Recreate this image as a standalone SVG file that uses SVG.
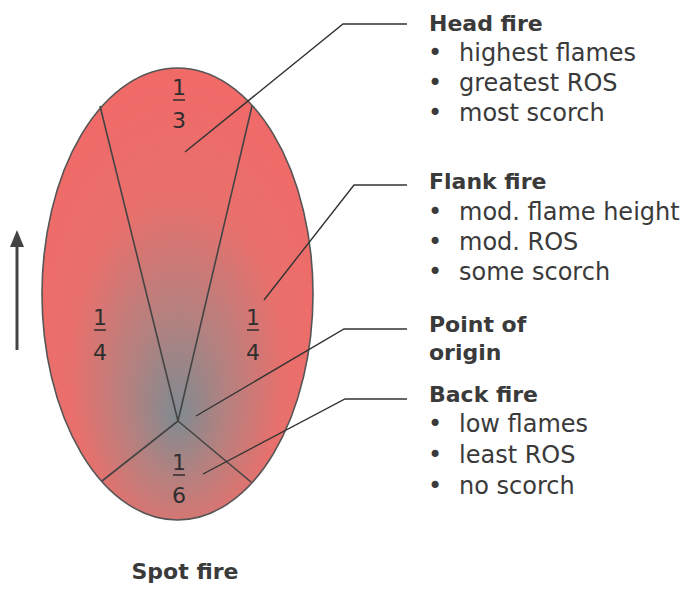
<svg xmlns="http://www.w3.org/2000/svg" width="688" height="593" viewBox="0 0 688 593">
  <style>
    .head { font-family: "DejaVu Sans", Verdana, sans-serif; font-weight: bold; font-size: 22px; fill: #3a3a3a; }
    .item { font-family: "DejaVu Sans", Verdana, sans-serif; font-size: 24px; fill: #3a3a3a; }
    .frac { font-family: "DejaVu Sans", Verdana, sans-serif; font-size: 22px; fill: #2e2e2e; text-anchor: middle; }
    .bar { stroke: #2e2e2e; stroke-width: 1.5; }
    .div { stroke: #444; stroke-width: 1.6; fill: none; }
    .lead { stroke: #333; stroke-width: 1.4; fill: none; }
  </style>
  <defs>
    <!-- burnt grey at the point of origin, fading to flame red toward the edge -->
    <radialGradient id="burn" cx="0.5" cy="0.62" r="0.6" fx="0.5" fy="0.77">
      <stop offset="0" stop-color="#7f8b91"/>
      <stop offset="0.3" stop-color="#b4817f"/>
      <stop offset="0.65" stop-color="#e8706c"/>
      <stop offset="1" stop-color="#f06a68"/>
    </radialGradient>
  </defs>

  <rect width="688" height="593" fill="#ffffff"/>

  <!-- fire perimeter -->
  <g id="spot-fire">
    <ellipse cx="177.5" cy="294" rx="135.5" ry="226" fill="url(#burn)" stroke="#555" stroke-width="1.6"/>
    <path class="div" d="M100,106 L178,421 L252,106 M178,421 L102,481 M178,421 L251,482"/>
  </g>

  <!-- fractions of the perimeter -->
  <g id="frac-head">
    <text class="frac" x="179" y="95">1</text>
    <line class="bar" x1="173" y1="100" x2="185" y2="100"/>
    <text class="frac" x="179" y="128">3</text>
  </g>
  <g id="frac-left">
    <text class="frac" x="100" y="325">1</text>
    <line class="bar" x1="94" y1="330" x2="106" y2="330"/>
    <text class="frac" x="100" y="360">4</text>
  </g>
  <g id="frac-right">
    <text class="frac" x="253" y="325">1</text>
    <line class="bar" x1="247" y1="330" x2="259" y2="330"/>
    <text class="frac" x="253" y="360">4</text>
  </g>
  <g id="frac-back">
    <text class="frac" x="179" y="470">1</text>
    <line class="bar" x1="173" y1="475" x2="185" y2="475"/>
    <text class="frac" x="179" y="503">6</text>
  </g>

  <!-- spread direction -->
  <g id="direction">
    <line x1="17" y1="350" x2="17" y2="244" stroke="#444" stroke-width="3"/>
    <polygon points="17,230 10,247 24,247" fill="#444"/>
  </g>

  <!-- leader lines -->
  <g id="connectors">
    <polyline class="lead" points="185,152 343,24 407,24"/>
    <polyline class="lead" points="264,300 354,185 407,185"/>
    <polyline class="lead" points="196,416 344,329 407,329"/>
    <polyline class="lead" points="203,474 345,399 407,399"/>
  </g>

  <g id="label-head">
    <text class="head" x="429" y="31">Head fire</text>
    <text class="item" x="428" y="61">•</text><text class="item" x="459" y="61">highest flames</text>
    <text class="item" x="428" y="91">•</text><text class="item" x="459" y="91">greatest ROS</text>
    <text class="item" x="428" y="121">•</text><text class="item" x="459" y="121">most scorch</text>
  </g>

  <g id="label-flank">
    <text class="head" x="429" y="189">Flank fire</text>
    <text class="item" x="428" y="220">•</text><text class="item" x="459" y="220">mod. flame height</text>
    <text class="item" x="428" y="250">•</text><text class="item" x="459" y="250">mod. ROS</text>
    <text class="item" x="428" y="280">•</text><text class="item" x="459" y="280">some scorch</text>
  </g>

  <g id="label-origin">
    <text class="head" x="429" y="332">Point of</text>
    <text class="head" x="429" y="360">origin</text>
  </g>

  <g id="label-back">
    <text class="head" x="429" y="402">Back fire</text>
    <text class="item" x="428" y="432">•</text><text class="item" x="459" y="432">low flames</text>
    <text class="item" x="428" y="463">•</text><text class="item" x="459" y="463">least ROS</text>
    <text class="item" x="428" y="494">•</text><text class="item" x="459" y="494">no scorch</text>
  </g>

  <g id="caption">
    <text class="head" x="185" y="579" text-anchor="middle">Spot fire</text>
  </g>
</svg>
